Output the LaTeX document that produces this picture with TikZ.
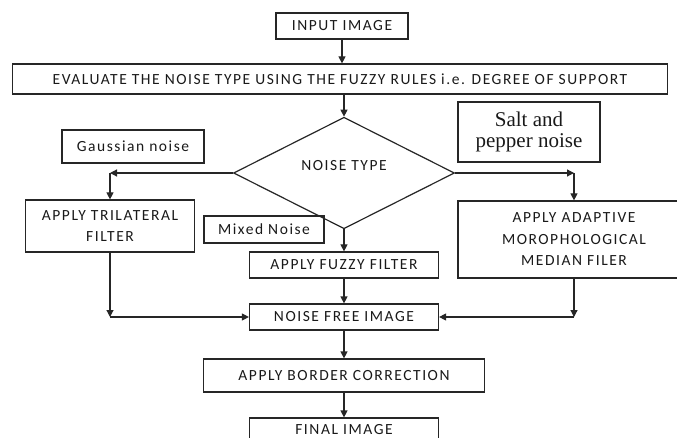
\documentclass[tikz,border=0pt]{standalone}
\usepackage{fontspec}
\setmainfont{Carlito}
\newfontfamily\boxfont[LetterSpace = 10]{Carlito}
\newfontfamily\saltfont{Liberation Serif}
\usepackage{tikz}
\usetikzlibrary{positioning, shapes.geometric, arrows.meta}
\tikzstyle{procbox} = [
    rectangle,
    draw = black!85,
    line width = 1.2pt,
    text = black!90,
    align = center,
    inner sep = 0pt,
    font = \boxfont\fontsize{15.5}{21.5}\selectfont
]
\tikzstyle{decision} = [
    diamond,
    draw = black!85,
    line width = 1.2pt,
    text = black!90,
    inner sep = 0pt,
    minimum width = 221pt,
    minimum height = 104pt,
    font = \boxfont\fontsize{15.5}{17}\selectfont
]
\tikzstyle{flow} = [
    draw = black!85,
    line width = 1.2pt,
    -{Triangle[length = 7pt, width = 7pt]}
]

\begin{document}
\begin{tikzpicture}[x = 1pt, y = -1pt]
    \clip (0,0) rectangle (677,438);
    % main chain
    \node[procbox, minimum width = 132pt, minimum height = 26pt] (input) at (342,26) {INPUT IMAGE};
    \node[procbox, minimum width = 655pt, minimum height = 30pt] (evaluate) at (340,79) {EVALUATE THE NOISE TYPE USING THE FUZZY RULES i.e. DEGREE OF SUPPORT};
    \node[decision] (type) at (344,173) {\raisebox{16pt}{NOISE TYPE}};
    \node[procbox, minimum width = 189pt, minimum height = 26pt] (fuzzy) at (344,265) {APPLY FUZZY FILTER};
    \node[procbox, minimum width = 189pt, minimum height = 26pt] (noisefree) at (344,317) {NOISE FREE IMAGE};
    \node[procbox, minimum width = 281pt, minimum height = 33pt] (border) at (344,375.5) {APPLY BORDER CORRECTION};
    \node[procbox, minimum width = 189pt, minimum height = 26pt] (final) at (344,431) {\raisebox{3pt}{FINAL IMAGE}};
    % side branches
    \node[procbox, minimum width = 169pt, minimum height = 52pt] (trilateral) at (110,226) {APPLY TRILATERAL\\FILTER};
    \node[procbox, minimum width = 232pt, minimum height = 77pt] (adaptive) at (574,239.5) {APPLY ADAPTIVE\\MOROPHOLOGICAL\\MEDIAN FILER};
    % notes
    \node[procbox, minimum width = 142pt, minimum height = 33pt] (gauss) at (133,146.5) {Gaussian noise};
    \node[procbox, minimum width = 142pt, minimum height = 60pt, font = \saltfont\fontsize{21}{21.5}\selectfont] (salt) at (529,132) {Salt and\\pepper noise};
    \node[procbox, minimum width = 120pt, minimum height = 27pt] (mixed) at (264,229.5) {Mixed Noise};
    % corners
    \coordinate (left top) at (110,173);
    \coordinate (right top) at (574,173);
    \coordinate (left bottom) at (110,317);
    \coordinate (right bottom) at (574,317);

    \draw[flow] (input.south) -- (input.south |- evaluate.north);
    \draw[flow] (type.north |- evaluate.south) -- (type.north);
    \draw[flow] (type.west) -- (left top);
    \draw[flow] (left top) -- (trilateral);
    \draw[flow] (type.east) -- (right top);
    \draw[flow] (right top) -- (adaptive);
    \draw[flow] (type.south) -- (fuzzy);
    \draw[flow] (fuzzy) -- (noisefree);
    \draw[flow] (trilateral) -- (left bottom);
    \draw[flow] (left bottom) -- (noisefree);
    \draw[flow] (adaptive) -- (right bottom);
    \draw[flow] (right bottom) -- (noisefree);
    \draw[flow] (noisefree) -- (border);
    \draw[flow] (border) -- (final);
\end{tikzpicture}
\end{document}
